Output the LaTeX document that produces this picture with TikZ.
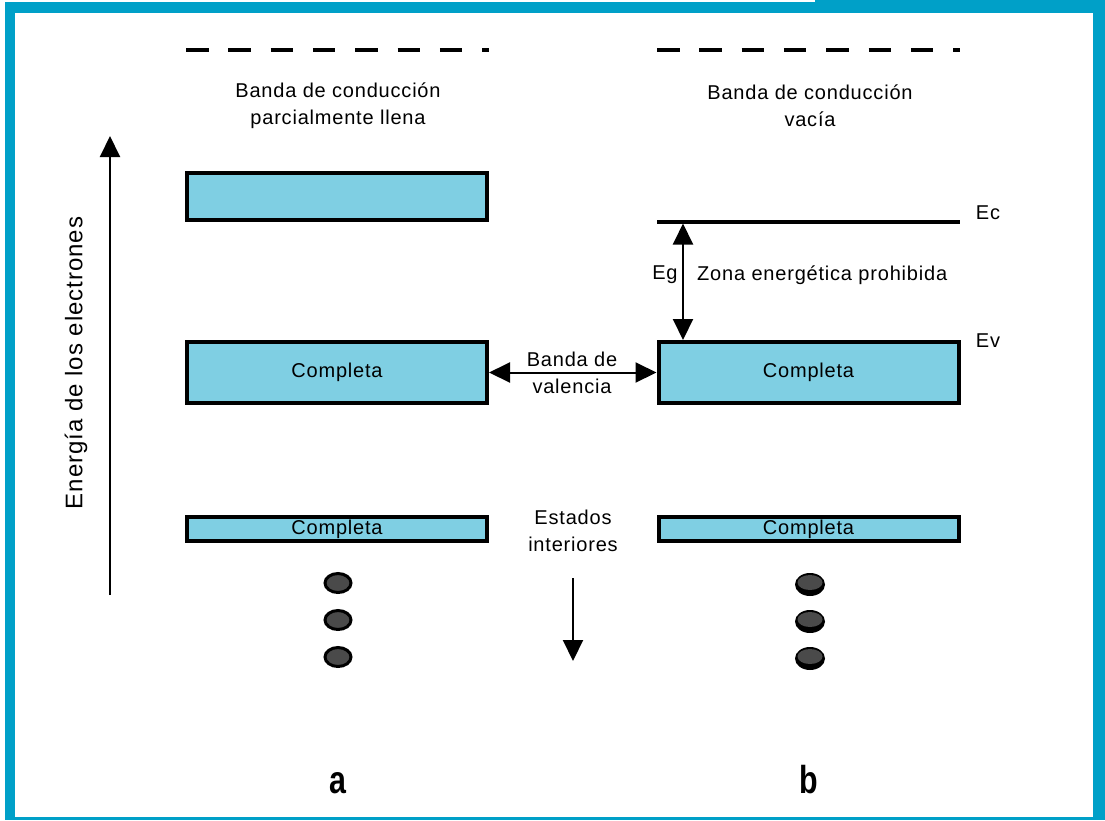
\documentclass[tikz,border=0pt]{standalone}
\usepackage{fontspec}
\setmainfont{Liberation Sans}[LetterSpace=4]
\newfontfamily\abfont{Liberation Sans Bold}[FakeStretch=0.78]
\usetikzlibrary{arrows.meta}
\definecolor{frameblue}{HTML}{00A0C8}
\definecolor{bandblue}{HTML}{7FCFE3}
\definecolor{dotgray}{HTML}{4A4A4A}
\begin{document}
\begin{tikzpicture}[x=1pt,y=-1pt,
  band/.style={draw=black, line width=4pt, fill=bandblue, inner sep=0pt, minimum width=300pt},
  lbl/.style={font=\fontsize{20}{27}\selectfont, align=center, inner sep=0pt},
  bigl/.style={font=\abfont\fontsize{39}{39}\selectfont, inner sep=0pt, anchor=base},
  arr/.style={line width=2pt, -{Triangle[width=20pt,length=21pt]}},
  darr/.style={line width=2pt, {Triangle[width=20pt,length=21pt]}-{Triangle[width=20pt,length=21pt]}},
  dashln/.style={line width=4.5pt, dash pattern=on 22.5pt off 19.8pt},
  dotb/.style={draw=black, line width=3pt, fill=dotgray}]
\useasboundingbox (0,0) rectangle (1105,820);
% frame
\fill[frameblue] (5,2) rectangle (1105,820);
\fill[frameblue] (815,0) rectangle (1105,2);
\fill[white] (15,13) rectangle (1093,817);
% dashed top lines
\coordinate (dA1) at (186,50); \coordinate (dA2) at (489,50);
\coordinate (dB1) at (657,50); \coordinate (dB2) at (960,50);
\draw[dashln] (dA1) -- (dA2);
\draw[dashln] (dB1) -- (dB2);
\node[lbl] (tA) at (338,106) {Banda de conducción\\parcialmente llena};
\node[lbl] (tB) at (810,106) {Banda de conducción\\vacía};
% energy axis
\coordinate (ax1) at (110,595); \coordinate (ax2) at (110,136);
\draw[arr] (ax1) -- (ax2);
\node[lbl, font=\fontsize{24}{28}\selectfont, rotate=90] (en) at (76,363) {Energía de los electrones};
% bands a
\node[band, minimum height=47pt] (aT) at (337,196.5) {};
\node[band, minimum height=61pt, lbl] (aM) at (337,372.5) {Completa};
\node[band, minimum height=24pt, lbl] (aB) at (337,529) {Completa};
% bands b
\coordinate (ec1) at (657,222); \coordinate (ec2) at (960,222);
\draw[line width=3.5pt] (ec1) -- (ec2);
\node[band, minimum height=61pt, lbl] (bM) at (808.5,372.5) {Completa};
\node[band, minimum height=24pt, lbl] (bB) at (808.5,529) {Completa};
\node[lbl] (ecl) at (988,213) {Ec};
\node[lbl] (evl) at (988,341) {Ev};
% Eg
\coordinate (egT) at (683,223.5);
\draw[darr] (egT) -- (egT |- bM.north);
\node[lbl] (eg) at (665,275) {Eg};
\node[lbl, anchor=west] (zona) at (697,275) {Zona energética prohibida};
% valence
\draw[darr] (aM.east) -- (bM.west);
\node[lbl] (val) at (572,373) {Banda de\\valencia};
% interior states
\node[lbl] (est) at (573,531) {Estados\\interiores};
\coordinate (dn1) at (573,578); \coordinate (dn2) at (573,661);
\draw[arr] (dn1) -- (dn2);
% dots a
\foreach \y in {583,620,657}{
  \draw[dotb] (338,\y) ellipse [x radius=13, y radius=9.5];
}
% dots b
\foreach \y in {584.5,621.5,658.5}{
  \fill[black] (810,\y) ellipse [x radius=15, y radius=11.5];
  \fill[dotgray] (810,\y-2) ellipse [x radius=12.5, y radius=7.5];
}
\node[bigl] (la) at (338,793) {a};
\node[bigl] (lb) at (809,793) {b};
\end{tikzpicture}
\end{document}
